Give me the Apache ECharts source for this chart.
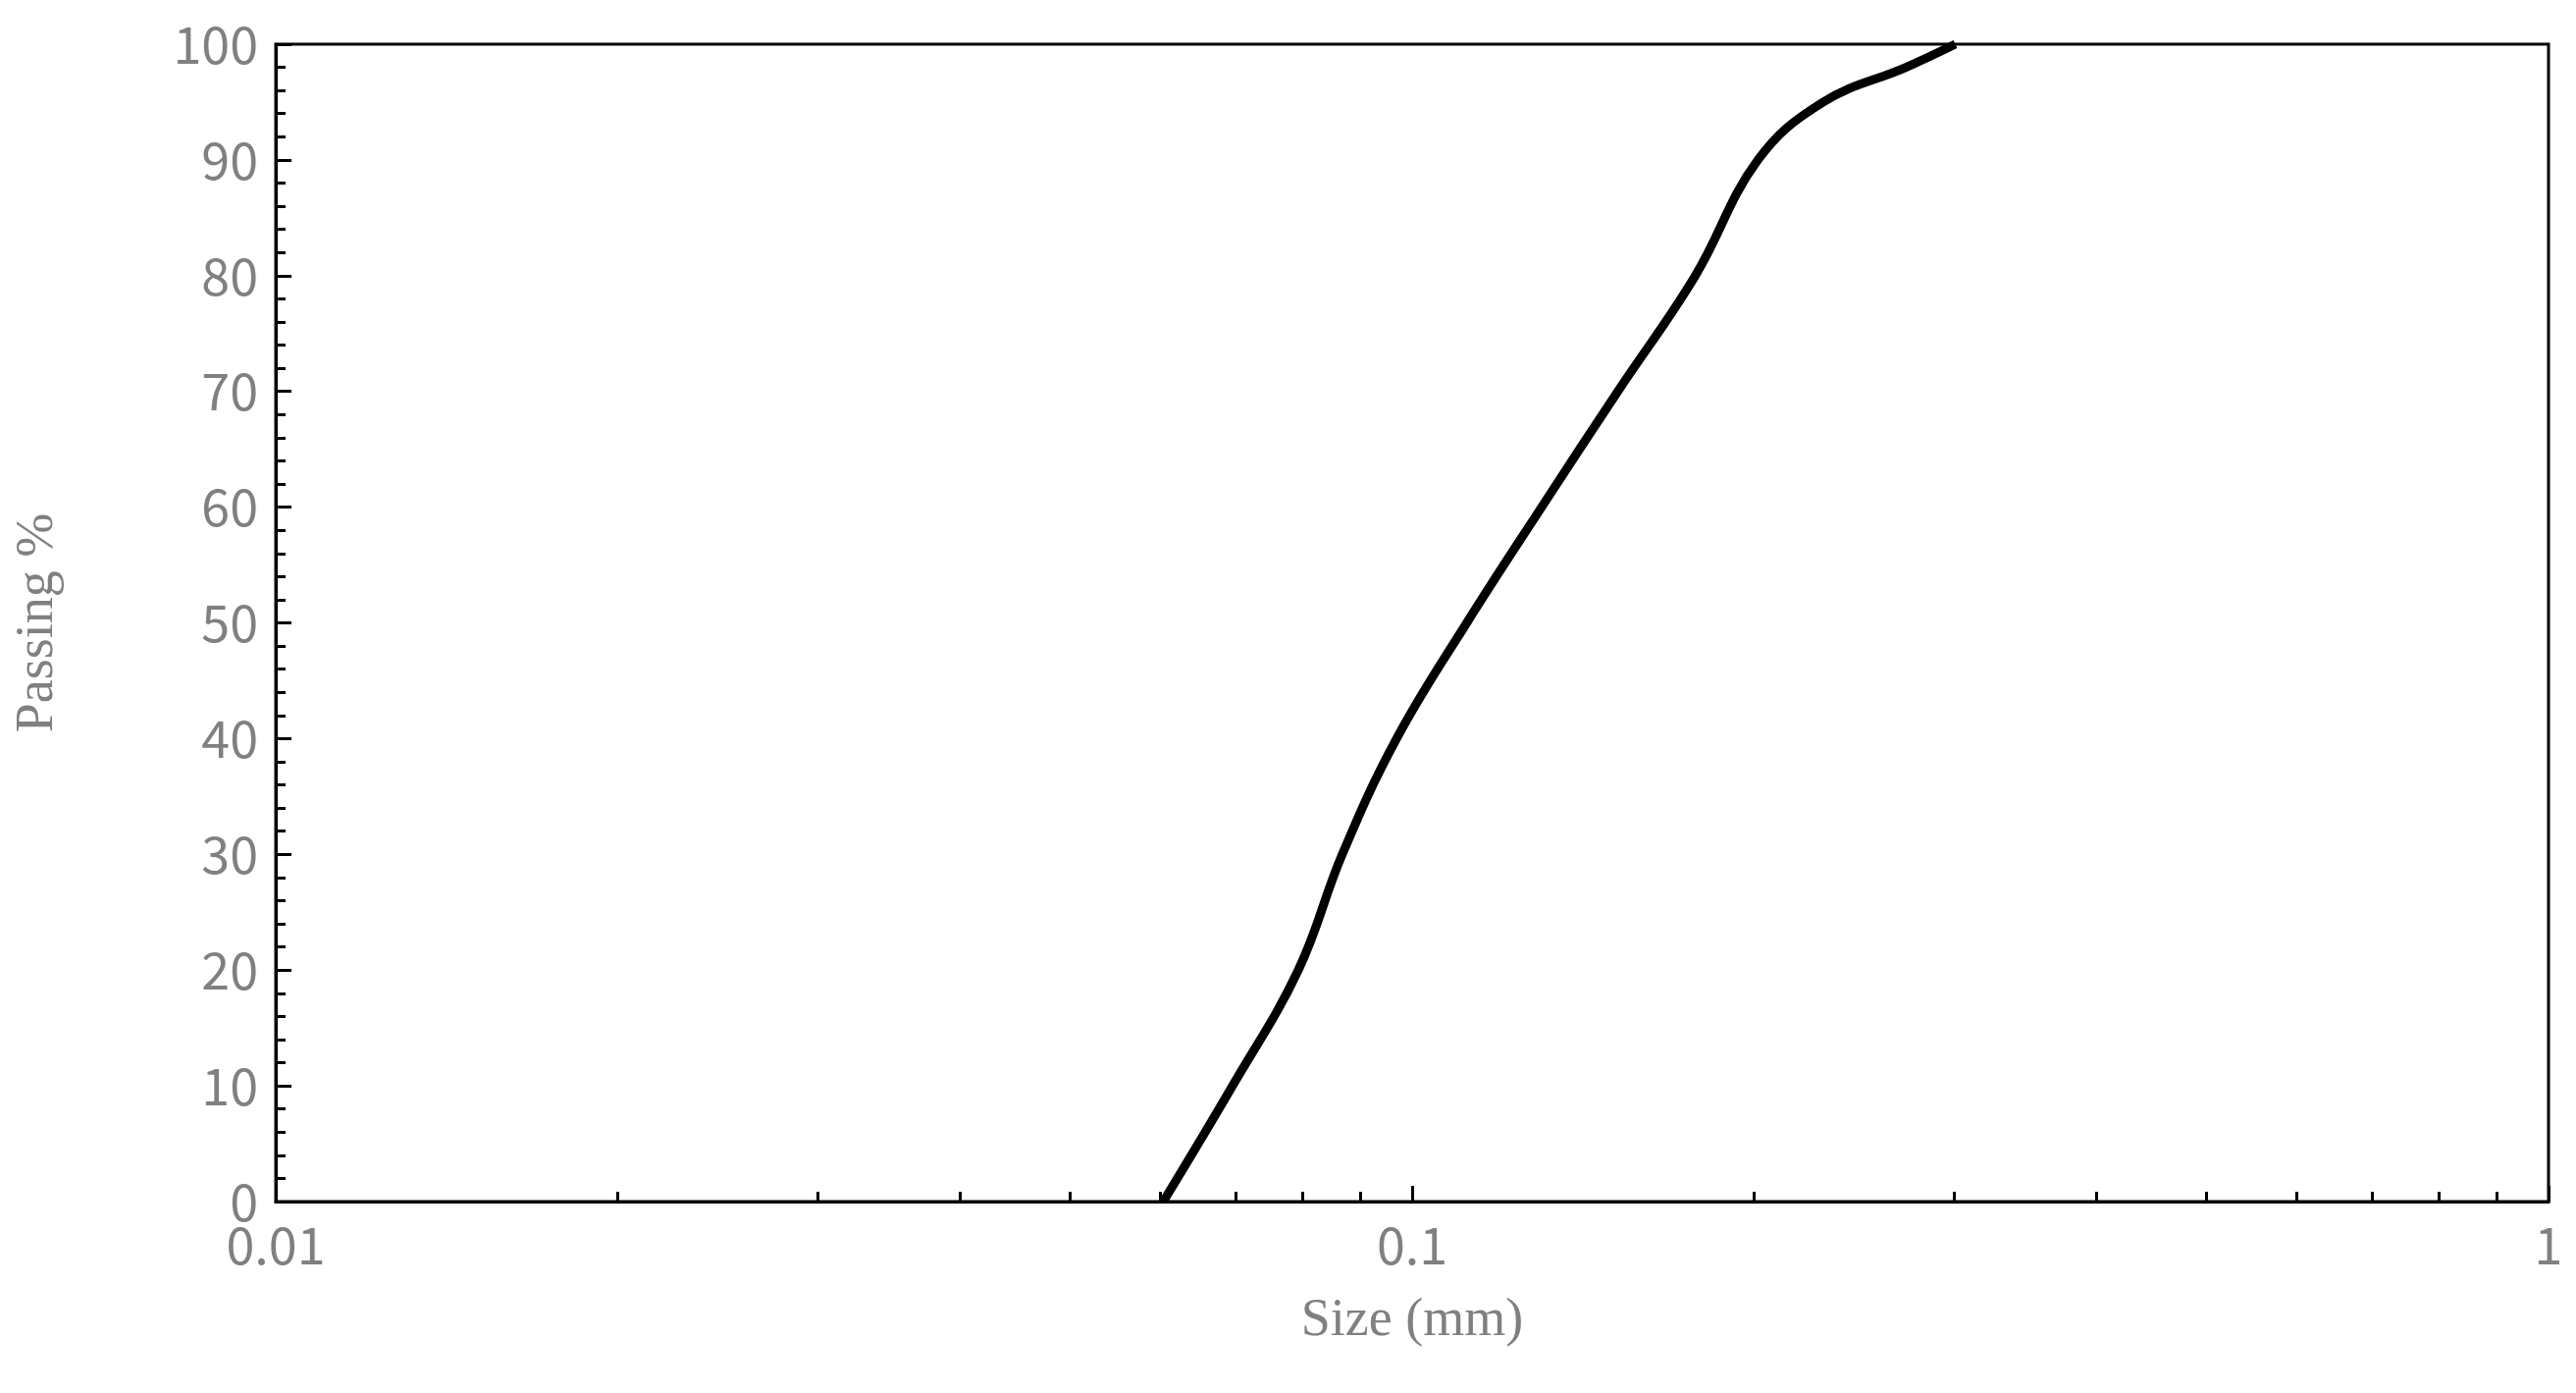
<!DOCTYPE html>
<html><head><meta charset="utf-8">
<script src="https://cdn.jsdelivr.net/npm/echarts@6/dist/echarts.min.js"></script>
<style>html,body{margin:0;background:#fff}#c{width:2625px;height:1419px}</style>
</head><body><div id="c"></div>
<script>
// particle size (mm) vs passing %
const sizes = [0.0604, 0.0695, 0.0794, 0.0868, 0.0969, 0.1117, 0.130, 0.1517, 0.1775, 0.2015, 0.230, 0.272, 0.3006];
const passing = [0, 10, 20, 30, 40, 50, 60, 70, 80, 90, 95, 98, 100];

const chart = echarts.init(document.getElementById('c'));
const gray = '#808080';
chart.setOption({
    animation: false,
    grid: {left: 281, right: 28, top: 45, bottom: 195, show: true, borderColor: '#000', borderWidth: 3},
    xAxis: {
        type: 'log', min: 0.01, max: 1, logBase: 10,
        name: 'Size (mm)', nameLocation: 'middle', nameGap: 95,
        nameTextStyle: {fontFamily: 'Liberation Serif', fontSize: 54, color: gray},
        axisLine: {lineStyle: {color: '#000', width: 3}},
        axisTick: {inside: true, length: 16, lineStyle: {color: '#000', width: 3}},
        minorTick: {show: true, splitNumber: 9, length: 10, lineStyle: {color: '#000', width: 3}},
        axisLabel: {fontFamily: 'Noto Sans CJK SC', fontSize: 52, color: gray, margin: 18,
            formatter: v => String(v)},
        splitLine: {show: false}
    },
    yAxis: {
        type: 'value', min: 0, max: 100, interval: 10,
        name: 'Passing %', nameLocation: 'middle', nameGap: 215, nameRotate: 90,
        nameTextStyle: {fontFamily: 'Liberation Serif', fontSize: 54, color: gray},
        axisLine: {lineStyle: {color: '#000', width: 3}},
        axisTick: {inside: true, length: 16, lineStyle: {color: '#000', width: 3}},
        minorTick: {show: true, splitNumber: 5, length: 10, lineStyle: {color: '#000', width: 3}},
        axisLabel: {fontFamily: 'Noto Sans CJK SC', fontSize: 52, color: gray, margin: 18},
        splitLine: {show: false}
    },
    series: [{
        type: 'line', smooth: 0.4, showSymbol: false,
        lineStyle: {color: '#000', width: 9},
        data: sizes.map((s, i) => [s, passing[i]])
    }]
});
</script></body></html>
